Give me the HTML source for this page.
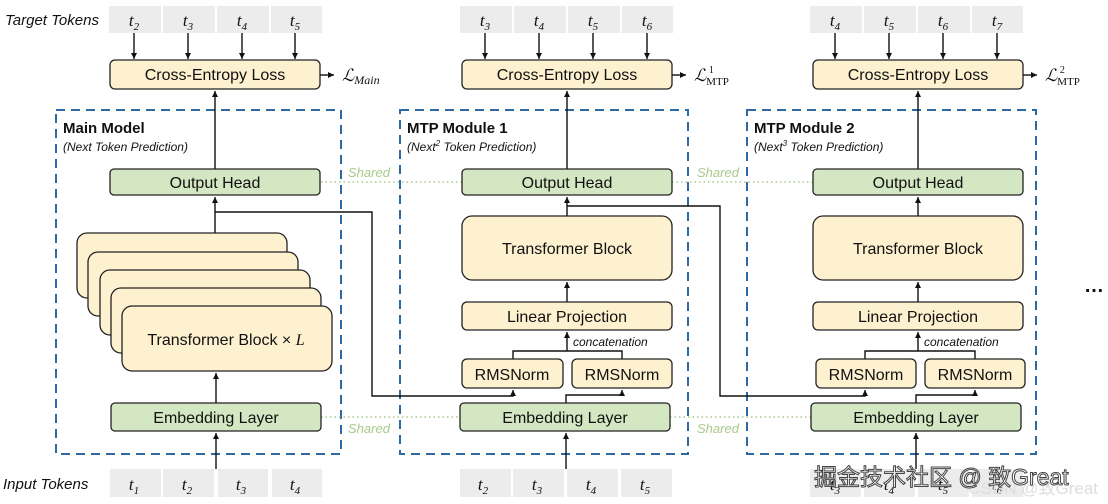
<!DOCTYPE html>
<html><head><meta charset="utf-8"><style>
html,body{margin:0;padding:0;background:#fff;}
svg{display:block;font-family:"Liberation Sans",sans-serif;}
.b{stroke:#222;stroke-width:1.3;}
.y{fill:#fdf1cf;}
.g{fill:#d3e7c3;}
.tk{fill:#ececec;}
.t{font-size:16px;fill:#111;text-anchor:middle;}
.m{font-family:"Liberation Serif",serif;font-style:italic;font-size:17px;fill:#111;text-anchor:middle;}
.sh{font-style:italic;font-size:13px;fill:#a8c98c;}
.dl{stroke:#a8c98c;stroke-width:1.5;stroke-dasharray:1.5 3;fill:none;}
.db{stroke:#2d6aa3;stroke-width:2;stroke-dasharray:9 6;fill:none;}
.ln{stroke:#111;stroke-width:1.4;fill:none;}
</style></head><body>
<svg width="1108" height="504" viewBox="0 0 1108 504" xmlns="http://www.w3.org/2000/svg">
<defs><marker id="a" markerWidth="8" markerHeight="8" refX="6" refY="4" orient="auto" markerUnits="userSpaceOnUse"><path d="M0,1 L6,4 L0,7 z" fill="#111"/></marker></defs>

<!-- labels -->
<text x="5" y="25" font-style="italic" font-size="15" fill="#111">Target Tokens</text>
<text x="3" y="489" font-style="italic" font-size="15" fill="#111">Input Tokens</text>

<!-- dashed boxes -->
<rect x="56" y="110" width="285" height="344" class="db"/>
<rect x="400" y="110" width="288" height="344" class="db"/>
<rect x="747" y="110" width="289" height="344" class="db"/>

<!-- shared dotted -->
<line x1="321" y1="182" x2="462" y2="182" class="dl"/>
<line x1="672" y1="182" x2="813" y2="182" class="dl"/>
<line x1="321" y1="417" x2="460" y2="417" class="dl"/>
<line x1="670" y1="417" x2="811" y2="417" class="dl"/>
<text x="348" y="177" class="sh">Shared</text>
<text x="697" y="177" class="sh">Shared</text>
<text x="348" y="433" class="sh">Shared</text>
<text x="697" y="433" class="sh">Shared</text>

<!-- ===== Main ===== -->
<g>
<rect x="109" y="6" width="52" height="27" class="tk"/><rect x="163" y="6" width="52" height="27" class="tk"/><rect x="217" y="6" width="52" height="27" class="tk"/><rect x="271" y="6" width="51" height="27" class="tk"/>
<text x="134" y="26" class="m">t<tspan font-size="11" dy="4">2</tspan></text>
<text x="188" y="26" class="m">t<tspan font-size="11" dy="4">3</tspan></text>
<text x="242" y="26" class="m">t<tspan font-size="11" dy="4">4</tspan></text>
<text x="295" y="26" class="m">t<tspan font-size="11" dy="4">5</tspan></text>
<line x1="134" y1="33" x2="134" y2="59" class="ln" marker-end="url(#a)"/>
<line x1="188" y1="33" x2="188" y2="59" class="ln" marker-end="url(#a)"/>
<line x1="242" y1="33" x2="242" y2="59" class="ln" marker-end="url(#a)"/>
<line x1="295" y1="33" x2="295" y2="59" class="ln" marker-end="url(#a)"/>
<rect x="110" y="60" width="210" height="29" rx="5" class="y b"/>
<text x="215" y="80" class="t">Cross-Entropy Loss</text>
<line x1="320" y1="75" x2="334" y2="75" class="ln" marker-end="url(#a)"/>
<text x="342" y="81" font-family="Liberation Serif,serif" font-style="italic" font-size="17" fill="#111">ℒ<tspan font-size="12" dy="3">Main</tspan></text>
<text x="63" y="133" font-weight="bold" font-size="15" fill="#111">Main Model</text>
<text x="63" y="151" font-style="italic" font-size="12" fill="#111">(Next Token Prediction)</text>
<line x1="215" y1="169" x2="215" y2="91" class="ln" marker-end="url(#a)"/>
<rect x="110" y="169" width="210" height="26" rx="4" class="g b"/>
<text x="215" y="188" class="t">Output Head</text>
<line x1="215" y1="233" x2="215" y2="197" class="ln" marker-end="url(#a)"/>
<polyline points="215,212 372,212 372,396 513,396 513,390" class="ln" marker-end="url(#a)"/>
<rect x="77" y="233" width="210" height="65" rx="10" class="y b"/>
<rect x="88" y="252" width="210" height="64" rx="10" class="y b"/>
<rect x="100" y="270" width="210" height="65" rx="10" class="y b"/>
<rect x="111" y="288" width="210" height="65" rx="10" class="y b"/>
<rect x="122" y="306" width="210" height="65" rx="10" class="y b"/>
<text x="226" y="345" class="t">Transformer Block × <tspan font-family="Liberation Serif,serif" font-style="italic">L</tspan></text>
<line x1="216" y1="403" x2="216" y2="373" class="ln" marker-end="url(#a)"/>
<rect x="111" y="403" width="210" height="28" rx="4" class="g b"/>
<text x="216" y="423" class="t">Embedding Layer</text>
<line x1="216" y1="469" x2="216" y2="433" class="ln" marker-end="url(#a)"/>
<rect x="110" y="469" width="51" height="28" class="tk"/><rect x="163" y="469" width="51" height="28" class="tk"/><rect x="218" y="469" width="50" height="28" class="tk"/><rect x="272" y="469" width="50" height="28" class="tk"/>
<text x="134" y="490" class="m">t<tspan font-size="11" dy="4">1</tspan></text>
<text x="187" y="490" class="m">t<tspan font-size="11" dy="4">2</tspan></text>
<text x="241" y="490" class="m">t<tspan font-size="11" dy="4">3</tspan></text>
<text x="295" y="490" class="m">t<tspan font-size="11" dy="4">4</tspan></text>
</g>

<!-- ===== MTP1 ===== -->
<g>
<rect x="460" y="6" width="52" height="27" class="tk"/><rect x="514" y="6" width="52" height="27" class="tk"/><rect x="568" y="6" width="52" height="27" class="tk"/><rect x="622" y="6" width="51" height="27" class="tk"/>
<text x="485" y="26" class="m">t<tspan font-size="11" dy="4">3</tspan></text>
<text x="539" y="26" class="m">t<tspan font-size="11" dy="4">4</tspan></text>
<text x="593" y="26" class="m">t<tspan font-size="11" dy="4">5</tspan></text>
<text x="647" y="26" class="m">t<tspan font-size="11" dy="4">6</tspan></text>
<line x1="485" y1="33" x2="485" y2="59" class="ln" marker-end="url(#a)"/>
<line x1="539" y1="33" x2="539" y2="59" class="ln" marker-end="url(#a)"/>
<line x1="593" y1="33" x2="593" y2="59" class="ln" marker-end="url(#a)"/>
<line x1="647" y1="33" x2="647" y2="59" class="ln" marker-end="url(#a)"/>
<rect x="462" y="60" width="210" height="29" rx="5" class="y b"/>
<text x="567" y="80" class="t">Cross-Entropy Loss</text>
<line x1="672" y1="75" x2="686" y2="75" class="ln" marker-end="url(#a)"/>
<text x="694" y="81" font-family="Liberation Serif,serif" font-style="italic" font-size="17" fill="#111">ℒ<tspan font-size="11" dy="4" font-style="normal">MTP</tspan><tspan font-size="10" dx="-20" dy="-12" font-style="normal">1</tspan></text>
<text x="407" y="133" font-weight="bold" font-size="15" fill="#111">MTP Module 1</text>
<text x="407" y="151" font-style="italic" font-size="12" fill="#111">(Next<tspan font-size="8" dy="-5">2</tspan><tspan dy="5"> Token Prediction)</tspan></text>
<line x1="567" y1="169" x2="567" y2="91" class="ln" marker-end="url(#a)"/>
<rect x="462" y="169" width="210" height="26" rx="4" class="g b"/>
<text x="567" y="188" class="t">Output Head</text>
<line x1="567" y1="216" x2="567" y2="197" class="ln" marker-end="url(#a)"/>
<polyline points="567,206 720,206 720,396 865,396 865,390" class="ln" marker-end="url(#a)"/>
<rect x="462" y="216" width="210" height="64" rx="10" class="y b"/>
<text x="567" y="254" class="t">Transformer Block</text>
<line x1="567" y1="302" x2="567" y2="282" class="ln" marker-end="url(#a)"/>
<rect x="462" y="302" width="210" height="28" rx="5" class="y b"/>
<text x="567" y="322" class="t">Linear Projection</text>
<polyline points="513,359 513,351 622,351 622,359" class="ln"/>
<line x1="567" y1="351" x2="567" y2="332" class="ln" marker-end="url(#a)"/>
<text x="573" y="346" font-style="italic" font-size="12" fill="#111">concatenation</text>
<rect x="462" y="359" width="101" height="29" rx="5" class="y b"/>
<rect x="572" y="359" width="100" height="29" rx="5" class="y b"/>
<text x="512" y="380" class="t">RMSNorm</text>
<text x="622" y="380" class="t">RMSNorm</text>
<polyline points="566,403 566,395 622,395 622,390" class="ln" marker-end="url(#a)"/>
<rect x="460" y="403" width="210" height="28" rx="4" class="g b"/>
<text x="565" y="423" class="t">Embedding Layer</text>
<line x1="566" y1="469" x2="566" y2="433" class="ln" marker-end="url(#a)"/>
<rect x="460" y="469" width="51" height="28" class="tk"/><rect x="513" y="469" width="51" height="28" class="tk"/><rect x="567" y="469" width="51" height="28" class="tk"/><rect x="621" y="469" width="51" height="28" class="tk"/>
<text x="483" y="490" class="m">t<tspan font-size="11" dy="4">2</tspan></text>
<text x="537" y="490" class="m">t<tspan font-size="11" dy="4">3</tspan></text>
<text x="591" y="490" class="m">t<tspan font-size="11" dy="4">4</tspan></text>
<text x="645" y="490" class="m">t<tspan font-size="11" dy="4">5</tspan></text>
</g>

<!-- ===== MTP2 ===== -->
<g>
<rect x="810" y="6" width="52" height="27" class="tk"/><rect x="864" y="6" width="52" height="27" class="tk"/><rect x="918" y="6" width="52" height="27" class="tk"/><rect x="972" y="6" width="51" height="27" class="tk"/>
<text x="835" y="26" class="m">t<tspan font-size="11" dy="4">4</tspan></text>
<text x="889" y="26" class="m">t<tspan font-size="11" dy="4">5</tspan></text>
<text x="943" y="26" class="m">t<tspan font-size="11" dy="4">6</tspan></text>
<text x="997" y="26" class="m">t<tspan font-size="11" dy="4">7</tspan></text>
<line x1="835" y1="33" x2="835" y2="59" class="ln" marker-end="url(#a)"/>
<line x1="889" y1="33" x2="889" y2="59" class="ln" marker-end="url(#a)"/>
<line x1="943" y1="33" x2="943" y2="59" class="ln" marker-end="url(#a)"/>
<line x1="997" y1="33" x2="997" y2="59" class="ln" marker-end="url(#a)"/>
<rect x="813" y="60" width="210" height="29" rx="5" class="y b"/>
<text x="918" y="80" class="t">Cross-Entropy Loss</text>
<line x1="1023" y1="75" x2="1037" y2="75" class="ln" marker-end="url(#a)"/>
<text x="1045" y="81" font-family="Liberation Serif,serif" font-style="italic" font-size="17" fill="#111">ℒ<tspan font-size="11" dy="4" font-style="normal">MTP</tspan><tspan font-size="10" dx="-20" dy="-12" font-style="normal">2</tspan></text>
<text x="754" y="133" font-weight="bold" font-size="15" fill="#111">MTP Module 2</text>
<text x="754" y="151" font-style="italic" font-size="12" fill="#111">(Next<tspan font-size="8" dy="-5">3</tspan><tspan dy="5"> Token Prediction)</tspan></text>
<line x1="918" y1="169" x2="918" y2="91" class="ln" marker-end="url(#a)"/>
<rect x="813" y="169" width="210" height="26" rx="4" class="g b"/>
<text x="918" y="188" class="t">Output Head</text>
<line x1="918" y1="216" x2="918" y2="197" class="ln" marker-end="url(#a)"/>
<rect x="813" y="216" width="210" height="64" rx="10" class="y b"/>
<text x="918" y="254" class="t">Transformer Block</text>
<line x1="918" y1="302" x2="918" y2="282" class="ln" marker-end="url(#a)"/>
<rect x="813" y="302" width="210" height="28" rx="5" class="y b"/>
<text x="918" y="322" class="t">Linear Projection</text>
<polyline points="865,359 865,351 975,351 975,359" class="ln"/>
<line x1="918" y1="351" x2="918" y2="332" class="ln" marker-end="url(#a)"/>
<text x="924" y="346" font-style="italic" font-size="12" fill="#111">concatenation</text>
<rect x="816" y="359" width="100" height="29" rx="5" class="y b"/>
<rect x="925" y="359" width="100" height="29" rx="5" class="y b"/>
<text x="866" y="380" class="t">RMSNorm</text>
<text x="975" y="380" class="t">RMSNorm</text>
<polyline points="916,403 916,395 975,395 975,390" class="ln" marker-end="url(#a)"/>
<rect x="811" y="403" width="210" height="28" rx="4" class="g b"/>
<text x="916" y="423" class="t">Embedding Layer</text>
<line x1="916" y1="469" x2="916" y2="433" class="ln" marker-end="url(#a)"/>
<rect x="810" y="469" width="51" height="28" class="tk"/><rect x="864" y="469" width="51" height="28" class="tk"/><rect x="918" y="469" width="51" height="28" class="tk"/><rect x="972" y="469" width="51" height="28" class="tk"/>
<text x="835" y="490" class="m">t<tspan font-size="11" dy="4">3</tspan></text>
<text x="889" y="490" class="m">t<tspan font-size="11" dy="4">4</tspan></text>
<text x="943" y="490" class="m">t<tspan font-size="11" dy="4">5</tspan></text>
<text x="997" y="490" class="m">t<tspan font-size="11" dy="4">6</tspan></text>
</g>

<text x="1084" y="292" font-size="20" font-weight="bold" fill="#111">…</text>

<!-- watermark -->
<text x="1098" y="494" font-family="'Liberation Sans','Noto Sans CJK SC',sans-serif" font-size="17" fill="#ddd" text-anchor="end">CSDN @致Great</text>
<text x="814" y="485" font-family="'Liberation Sans','Noto Sans CJK SC',sans-serif" font-size="23" fill="#fff" stroke="#444" stroke-width="1">掘金技术社区 @ 致Great</text>
</svg>
</body></html>
